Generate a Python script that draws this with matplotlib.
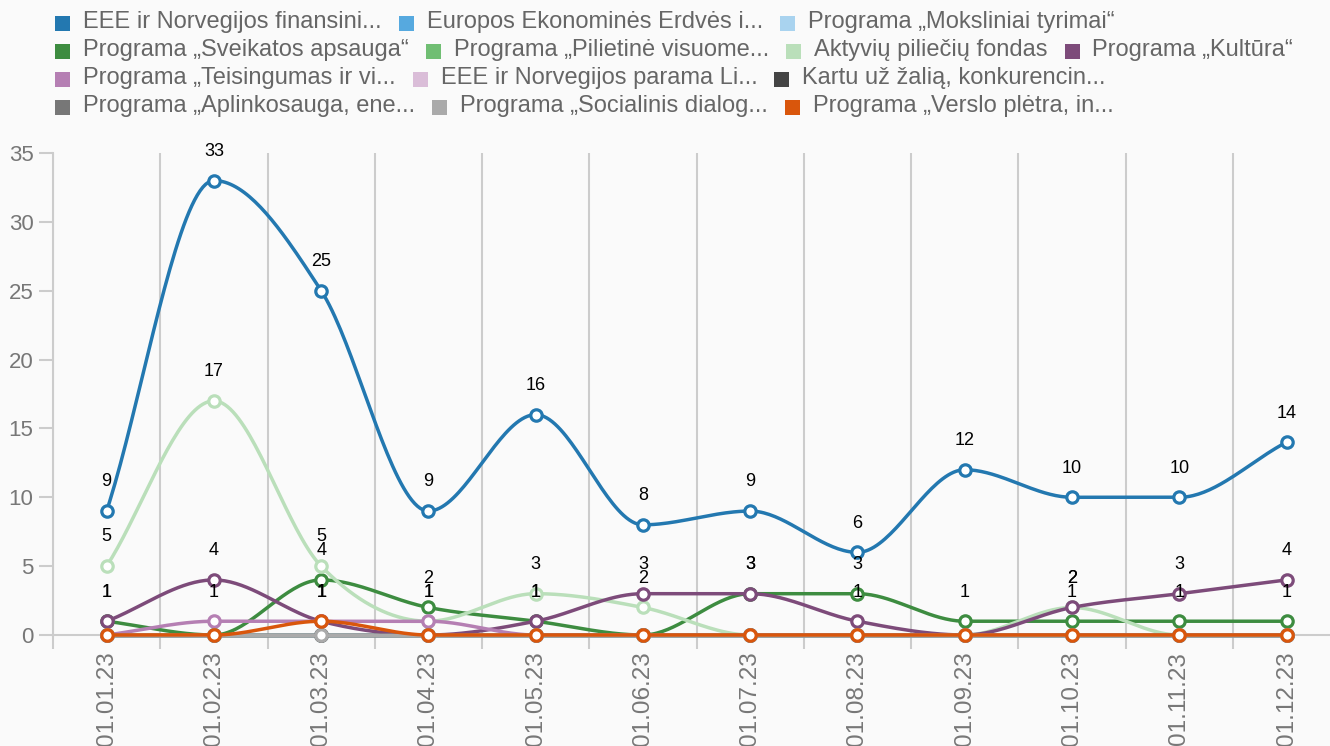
import matplotlib
matplotlib.use("Agg")
import matplotlib.pyplot as plt
from matplotlib.patches import Rectangle
import numpy as np

plt.rcParams['font.family'] = ['Liberation Sans', 'DejaVu Sans']

# ---- data ----
dates = ["01.01.23", "01.02.23", "01.03.23", "01.04.23", "01.05.23", "01.06.23",
         "01.07.23", "01.08.23", "01.09.23", "01.10.23", "01.11.23", "01.12.23"]

names = ["EEE ir Norvegijos finansini...",
         "Europos Ekonominės Erdvės i...",
         "Programa „Moksliniai tyrimai“",
         "Programa „Sveikatos apsauga“",
         "Programa „Pilietinė visuome...",
         "Aktyvių piliečių fondas",
         "Programa „Kultūra“",
         "Programa „Teisingumas ir vi...",
         "EEE ir Norvegijos parama Li...",
         "Kartu už žalią, konkurencin...",
         "Programa „Aplinkosauga, ene...",
         "Programa „Socialinis dialog...",
         "Programa „Verslo plėtra, in..."]

colors = ["#2378b0", "#56a9df", "#a9d3ef", "#3d8c40", "#70be73", "#badfba",
          "#7d4b7a", "#b57fb3", "#dabdd8", "#444444", "#777777", "#aaaaaa", "#d9560c"]

eee_fin     = [9, 33, 25, 9, 16, 8, 9, 6, 12, 10, 10, 14]
europos     = [0] * 12
moksliniai  = [0] * 12
sveikatos   = [1, 0, 4, 2, 1, 0, 3, 3, 1, 1, 1, 1]
pilietine   = [0] * 12
aktyviu     = [5, 17, 5, 1, 3, 2, 0, 0, 0, 2, 0, 0]
kultura     = [1, 4, 1, 0, 1, 3, 3, 1, 0, 2, 3, 4]
teisingumas = [0, 1, 1, 1, 0, 0, 0, 0, 0, 0, 0, 0]
eee_parama  = [0] * 12
kartu       = [0] * 12
aplinkos    = [0] * 12
socialinis  = [0] * 12
verslo      = [0, 0, 1, 0, 0, 0, 0, 0, 0, 0, 0, 0]

series = [eee_fin, europos, moksliniai, sveikatos, pilietine, aktyviu, kultura,
          teisingumas, eee_parama, kartu, aplinkos, socialinis, verslo]

legend_rows = [[0, 1, 2], [3, 4, 5, 6], [7, 8, 9], [10, 11, 12]]


def monotone(ys, n=40):
    # monotone cubic (Steffen) through equally spaced points
    y = np.asarray(ys, float)
    s = np.diff(y)
    m = np.zeros_like(y)
    for i in range(1, len(y) - 1):
        p = (s[i - 1] + s[i]) / 2
        m[i] = (np.sign(s[i - 1]) + np.sign(s[i])) * min(abs(s[i - 1]), abs(s[i]), 0.5 * abs(p))
    m[0] = s[0]
    m[-1] = s[-1]
    xo, yo = [], []
    t = np.linspace(0, 1, n)
    for i in range(len(y) - 1):
        h00 = 2 * t**3 - 3 * t**2 + 1
        h10 = t**3 - 2 * t**2 + t
        h01 = -2 * t**3 + 3 * t**2
        h11 = t**3 - t**2
        xo.extend(i + t)
        yo.extend(h00 * y[i] + h10 * m[i] + h01 * y[i + 1] + h11 * m[i + 1])
    return np.array(xo), np.array(yo)


W, H = 1330, 746
bg = "#fafafa"
fig = plt.figure(figsize=(W / 100, H / 100), dpi=100)
fig.patch.set_facecolor(bg)
ax = fig.add_axes([53 / W, 111 / H, 1277 / W, 482 / H])
ax.set_facecolor(bg)
ax.set_xlim(-0.5, 11.405)
ax.set_ylim(0, 35)

x = np.arange(len(dates))
for i, (vals, c) in enumerate(zip(series, colors)):
    xs, ys = monotone(vals)
    ax.plot(xs, ys, color=c, lw=2.5, clip_on=False, zorder=3 + i * 0.1, solid_capstyle='round')
    ax.plot(x, vals, 'o', ms=8.2, mfc='white', mec=c, mew=2.3, clip_on=False, zorder=3.05 + i * 0.1)
    for xi, v in zip(x, vals):
        if v:
            ax.annotate(str(v), (xi, v), xytext=(0, 21), textcoords='offset points',
                        ha='center', va='center', fontsize=13, color='black', zorder=10)

# axes styling
for sp in ['top', 'right']:
    ax.spines[sp].set_visible(False)
for sp in ['left', 'bottom']:
    ax.spines[sp].set_color('#cccccc')
    ax.spines[sp].set_linewidth(1.5)

ax.set_xticks(np.arange(-0.5, 11.5, 1))
ax.set_xticklabels([])
ax.set_xticks(x, minor=True)
ax.set_xticklabels(dates, minor=True)
ax.grid(axis='x', which='major', color='#cccccc', lw=1.5)
ax.tick_params(axis='x', which='major', length=10, color='#cccccc', width=1.5)
ax.tick_params(axis='x', which='minor', length=0, pad=12, labelsize=17.5,
               labelcolor='#777777', labelrotation=90)
ax.set_yticks(range(0, 36, 5))
ax.tick_params(axis='y', length=10, color='#cccccc', width=1.5, labelsize=16,
               labelcolor='#777777', pad=4)

# legend (flow layout at top)
renderer = fig.canvas.get_renderer()
for r, row in enumerate(legend_rows):
    xpos = 55
    base = 28 + 28 * r
    for k in row:
        fig.add_artist(Rectangle((xpos / W, 1 - (base + 3) / H), 15 / W, 15 / H,
                                 transform=fig.transFigure, color=colors[k], lw=0))
        t = fig.text((xpos + 28) / W, 1 - base / H, names[k], fontsize=17,
                     color='#666666', va='baseline', ha='left')
        wpx = t.get_window_extent(renderer).width
        xpos = xpos + 28 + wpx + 17

fig.savefig("out.png", dpi=100, facecolor=bg)
